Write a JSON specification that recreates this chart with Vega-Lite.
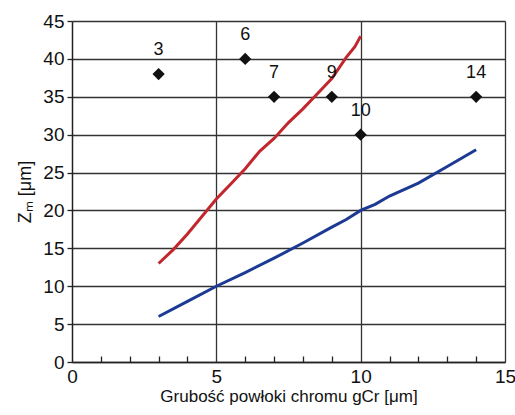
{
  "$schema": "https://vega.github.io/schema/vega-lite/v6.json",
  "width": 433,
  "height": 341,
  "autosize": "none",
  "padding": {"left": 72, "top": 21, "right": 10, "bottom": 53},
  "background": "white",
  "config": {
    "view": {"stroke": null},
    "font": "Liberation Sans",
    "axis": {
      "domainColor": "#222",
      "domainWidth": 1.5,
      "gridColor": "#333",
      "gridWidth": 1.3,
      "gridOpacity": 1,
      "tickColor": "#222",
      "tickWidth": 1.3,
      "labelFont": "Liberation Sans",
      "labelFontSize": 19,
      "labelColor": "#111",
      "titleFont": "Liberation Sans",
      "titleFontSize": 17,
      "titleFontWeight": "normal",
      "titleColor": "#111"
    }
  },
  "datasets": {
    "lines": [
      {"series": "red", "x": 3, "y": 13},
      {"series": "red", "x": 3.5, "y": 14.8},
      {"series": "red", "x": 4, "y": 16.9},
      {"series": "red", "x": 4.5, "y": 19.2},
      {"series": "red", "x": 5, "y": 21.5},
      {"series": "red", "x": 5.5, "y": 23.5},
      {"series": "red", "x": 6, "y": 25.5},
      {"series": "red", "x": 6.5, "y": 27.8},
      {"series": "red", "x": 7, "y": 29.5},
      {"series": "red", "x": 7.5, "y": 31.6},
      {"series": "red", "x": 8, "y": 33.4},
      {"series": "red", "x": 8.5, "y": 35.4},
      {"series": "red", "x": 9, "y": 37.4},
      {"series": "red", "x": 9.5, "y": 40.2},
      {"series": "red", "x": 9.8, "y": 41.6},
      {"series": "red", "x": 10, "y": 43},
      {"series": "blue", "x": 3, "y": 6},
      {"series": "blue", "x": 4, "y": 8},
      {"series": "blue", "x": 5, "y": 10},
      {"series": "blue", "x": 6, "y": 11.8},
      {"series": "blue", "x": 7, "y": 13.7},
      {"series": "blue", "x": 8, "y": 15.7},
      {"series": "blue", "x": 9, "y": 17.8},
      {"series": "blue", "x": 9.5, "y": 18.8},
      {"series": "blue", "x": 10, "y": 20},
      {"series": "blue", "x": 10.5, "y": 20.8},
      {"series": "blue", "x": 11, "y": 21.9},
      {"series": "blue", "x": 12, "y": 23.6},
      {"series": "blue", "x": 13, "y": 25.8},
      {"series": "blue", "x": 14, "y": 28}
    ],
    "points": [
      {"x": 3, "y": 38, "label": "3"},
      {"x": 6, "y": 40, "label": "6"},
      {"x": 7, "y": 35, "label": "7"},
      {"x": 9, "y": 35, "label": "9"},
      {"x": 10, "y": 30, "label": "10"},
      {"x": 14, "y": 35, "label": "14"}
    ]
  },
  "encoding": {
    "x": {
      "field": "x", "type": "quantitative",
      "scale": {"domain": [0, 15], "nice": false},
      "axis": {
        "title": "Grubość powłoki chromu gCr [μm]",
        "titleColor": "#111",
        "values": [0,1,2,3,4,5,6,7,8,9,10,11,12,13,14,15],
        "labelExpr": "datum.value % 5 == 0 ? datum.label : ''",
        "gridOpacity": {"condition": {"test": "datum.value % 5 == 0 && datum.value > 0", "value": 1}, "value": 0},
        "tickSize": {"condition": {"test": "datum.value % 5 == 0", "value": 0}, "value": -6},
        "labelPadding": 5,
        "labelOverlap": false,
        "labelFlush": false,
        "titlePadding": 2
      }
    },
    "y": {
      "field": "y", "type": "quantitative",
      "scale": {"domain": [0, 45], "nice": false},
      "axis": {
        "title": "Zₘ [μm]",
        "titleColor": "#111",
        "titleFontSize": 18,
        "values": [0,5,10,15,20,25,30,35,40,45],
        "tickSize": 5,
        "labelPadding": 3,
        "labelOverlap": false,
        "labelFlush": false,
        "titlePadding": 8
      }
    }
  },
  "layer": [
    {
      "data": {"name": "lines"},
      "mark": {"type": "line", "strokeWidth": 3},
      "encoding": {
        "color": {
          "field": "series", "type": "nominal",
          "scale": {"domain": ["red", "blue"], "range": ["#c1272d", "#1c3a94"]},
          "legend": null
        },
        "detail": {"field": "series"}
      }
    },
    {
      "data": {"name": "points"},
      "mark": {"type": "point", "shape": "diamond", "filled": true, "size": 150, "color": "#111", "opacity": 1}
    },
    {
      "data": {"name": "points"},
      "mark": {"type": "text", "dy": -24, "fontSize": 18, "font": "Liberation Sans", "color": "#111"},
      "encoding": {
        "text": {"field": "label"}
      }
    }
  ]
}
